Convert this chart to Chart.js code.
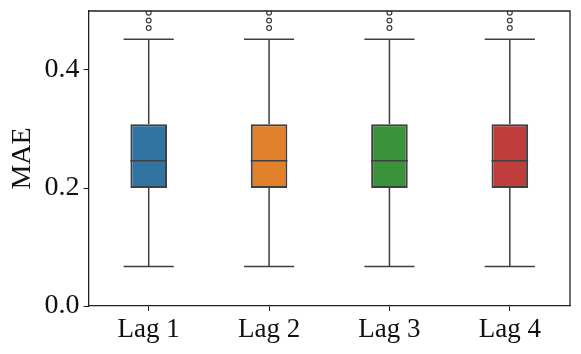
<!DOCTYPE html>
<html>
<head>
<meta charset="utf-8">
<script src="https://cdn.jsdelivr.net/npm/chart.js@4"></script>
<style>
  html, body { margin: 0; padding: 0; background: #fff; }
  #wrap { width: 581px; height: 354px; }
</style>
</head>
<body>
<div id="wrap"><canvas id="chart" width="581" height="354"></canvas></div>
<script>
// Box plot values
const categories = ['Lag 1', 'Lag 2', 'Lag 3', 'Lag 4'];
const whiskerLow = [0.067, 0.067, 0.067, 0.067];
const q1 = [0.200, 0.200, 0.200, 0.200];
const median = [0.246, 0.246, 0.246, 0.246];
const q3 = [0.308, 0.308, 0.308, 0.308];
const whiskerHigh = [0.452, 0.452, 0.452, 0.452];
const outliers = [
    [0.471, 0.484, 0.497],
    [0.471, 0.484, 0.497],
    [0.471, 0.484, 0.497],
    [0.471, 0.484, 0.497]
];
const boxColors = ['#3274a1', '#e1812c', '#3a923a', '#c03d3e'];
const yTicks = [0.0, 0.2, 0.4];

const FONT = "'Liberation Serif', serif";
const EDGE = '#3f3f3f';

/**
 * Whiskers, caps, medians, outliers and the top/right spines
 */
const boxPlugin = {
    id: 'boxExtras',
    afterDatasetsDraw(chart) {
        const { ctx, chartArea, scales: { x, y } } = chart;
        const meta = chart.getDatasetMeta(0);

        ctx.save();
        ctx.strokeStyle = EDGE;
        ctx.lineWidth = 1.5;

        categories.forEach((c, i) => {
            const cx = x.getPixelForValue(i);
            const bar = meta.data[i];
            const half = bar.width / 2;
            const capHalf = half * 1.37;

            // whiskers
            ctx.beginPath();
            ctx.moveTo(cx, y.getPixelForValue(q3[i]));
            ctx.lineTo(cx, y.getPixelForValue(whiskerHigh[i]));
            ctx.moveTo(cx, y.getPixelForValue(q1[i]));
            ctx.lineTo(cx, y.getPixelForValue(whiskerLow[i]));
            // caps
            ctx.moveTo(cx - capHalf, y.getPixelForValue(whiskerHigh[i]));
            ctx.lineTo(cx + capHalf, y.getPixelForValue(whiskerHigh[i]));
            ctx.moveTo(cx - capHalf, y.getPixelForValue(whiskerLow[i]));
            ctx.lineTo(cx + capHalf, y.getPixelForValue(whiskerLow[i]));
            // median
            ctx.moveTo(cx - half, y.getPixelForValue(median[i]));
            ctx.lineTo(cx + half, y.getPixelForValue(median[i]));
            ctx.stroke();

            // outliers, clipped to the plot area
            ctx.save();
            ctx.beginPath();
            ctx.rect(chartArea.left, chartArea.top, chartArea.right - chartArea.left, chartArea.bottom - chartArea.top);
            ctx.clip();
            ctx.lineWidth = 1.2;
            outliers[i].forEach(v => {
                ctx.beginPath();
                ctx.arc(cx, y.getPixelForValue(v), 2.4, 0, Math.PI * 2);
                ctx.fillStyle = '#fff';
                ctx.fill();
                ctx.stroke();
            });
            ctx.restore();
        });

        // top and right spines
        ctx.strokeStyle = '#222';
        ctx.lineWidth = 1.3;
        ctx.beginPath();
        ctx.moveTo(chartArea.left, chartArea.top);
        ctx.lineTo(chartArea.right, chartArea.top);
        ctx.lineTo(chartArea.right, chartArea.bottom);
        ctx.stroke();
        ctx.restore();
    }
};

new Chart(document.getElementById('chart').getContext('2d'), {
    type: 'bar',
    data: {
        labels: categories,
        datasets: [{
            data: categories.map((c, i) => [q1[i], q3[i]]),
            backgroundColor: boxColors,
            borderColor: EDGE,
            borderWidth: 2,
            borderSkipped: false,
            categoryPercentage: 1,
            barPercentage: 0.304
        }]
    },
    options: {
        responsive: false,
        animation: false,
        devicePixelRatio: 1,
        layout: { padding: { top: 11, right: 11, left: 0, bottom: 0 } },
        plugins: {
            legend: { display: false },
            tooltip: { enabled: false }
        },
        scales: {
            x: {
                grid: { drawOnChartArea: false, drawTicks: true, tickLength: 5, color: '#222', offset: false },
                border: { display: true, color: '#222', width: 1.3 },
                ticks: { color: '#111', font: { family: FONT, size: 27 }, padding: 3 },
                afterFit: s => { s.height = 48; s.paddingLeft = 0; s.paddingRight = 0; }
            },
            y: {
                min: 0,
                max: 0.5,
                afterBuildTicks: s => { s.ticks = yTicks.map(v => ({ value: v })); },
                grid: { drawOnChartArea: false, drawTicks: true, tickLength: 5, color: '#222' },
                border: { display: true, color: '#222', width: 1.3 },
                ticks: {
                    color: '#111',
                    font: { family: FONT, size: 28 },
                    padding: 4,
                    callback: v => v.toFixed(1)
                },
                title: {
                    display: true,
                    text: 'MAE',
                    color: '#111',
                    font: { family: FONT, size: 28 },
                    padding: { top: 6, bottom: 0 }
                },
                afterFit: s => { s.width = 88.5; s.paddingTop = 0; s.paddingBottom = 0; }
            }
        }
    },
    plugins: [boxPlugin]
});
</script>
</body>
</html>
